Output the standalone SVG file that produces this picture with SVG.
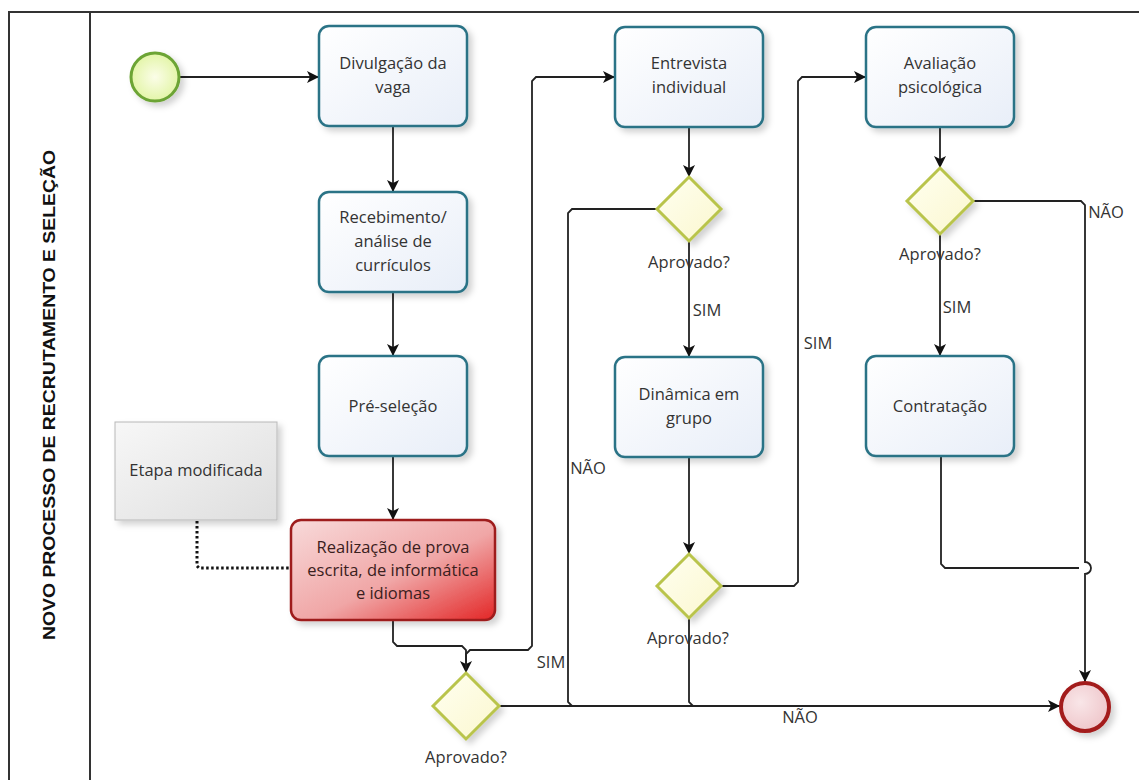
<svg xmlns="http://www.w3.org/2000/svg" width="1139" height="780" viewBox="0 0 1139 780">
<defs>
<style>
.lbl{font-family:"Open Sans","Noto Sans","Liberation Sans",sans-serif;font-size:16.5px;fill:#333;text-anchor:middle}
.task{stroke:#2b7386;stroke-width:2.5;fill:url(#gBlue);filter:url(#sh)}
.gw{fill:url(#gYel);stroke:#b9c44c;stroke-width:3;filter:url(#sh)}
.conn{fill:none;stroke:#222;stroke-width:1.8}
.arr{marker-end:url(#ah)}
</style>
<linearGradient id="gBlue" x1="0" y1="0" x2="1" y2="1"><stop offset="0" stop-color="#ffffff"/><stop offset="1" stop-color="#e8eef8"/></linearGradient>
<linearGradient id="gRed" x1="0" y1="0" x2="1" y2="1"><stop offset="0" stop-color="#f8dada"/><stop offset="0.55" stop-color="#f0a6a6"/><stop offset="1" stop-color="#e32626"/></linearGradient>
<linearGradient id="gYel" x1="0" y1="0" x2="1" y2="1"><stop offset="0" stop-color="#fffff0"/><stop offset="1" stop-color="#fbf7cf"/></linearGradient>
<linearGradient id="gGray" x1="0" y1="0" x2="1" y2="1"><stop offset="0" stop-color="#f7f7f7"/><stop offset="1" stop-color="#dedede"/></linearGradient>
<radialGradient id="gGreen" cx="0.5" cy="0.5" r="0.5"><stop offset="0" stop-color="#fbfde8"/><stop offset="1" stop-color="#e3f5a8"/></radialGradient>
<radialGradient id="gPink" cx="0.4" cy="0.4" r="0.6"><stop offset="0" stop-color="#f9e6e8"/><stop offset="1" stop-color="#efc8cc"/></radialGradient>
<filter id="sh" x="-20%" y="-20%" width="150%" height="150%"><feDropShadow dx="4" dy="4" stdDeviation="3" flood-color="#000" flood-opacity="0.18"/></filter>
<marker id="ah" viewBox="0 0 12 12" refX="12" refY="6" markerWidth="12" markerHeight="12" markerUnits="userSpaceOnUse" orient="auto"><path d="M0,0 L12,6 L0,12 L3,6 z" fill="#111"/></marker>
</defs>
<rect width="1139" height="780" fill="#fff"/>
<g id="pool">
<rect x="9" y="12" width="1140" height="780" fill="none" stroke="#333" stroke-width="2"/>
<line x1="90" y1="12" x2="90" y2="780" stroke="#333" stroke-width="2"/>
<text x="0" y="0" transform="translate(55,395) rotate(-90)" font-family="'Liberation Sans',Arial,sans-serif" font-weight="bold" font-size="17" fill="#111" text-anchor="middle" textLength="490" lengthAdjust="spacingAndGlyphs">NOVO PROCESSO DE RECRUTAMENTO E SELEÇÃO</text>
</g>
<g id="connectors">
<path class="conn arr" d="M179,77 H319"/>
<path class="conn arr" d="M393,127 V192"/>
<path class="conn arr" d="M393,292 V356"/>
<path class="conn arr" d="M393,456 V520"/>
<path class="conn arr" d="M393,620 V642 L397,646 H462 L466,650 V673"/>
<path class="conn arr" d="M466,673 V654 L470,650 H528 L532,646 V81 L536,77 H615"/>
<path class="conn arr" d="M499,706 H1060"/>
<path class="conn arr" d="M689,127 V177"/>
<path class="conn arr" d="M689,241 V357"/>
<path class="conn" d="M657,209 H572 L568,213 V702 L572,706"/>
<path class="conn arr" d="M689,457 V554"/>
<path class="conn arr" d="M721,586 H794 L798,582 V81 L802,77 H866"/>
<path class="conn" d="M689,618 V702 L693,706"/>
<path class="conn arr" d="M940,127 V168"/>
<path class="conn arr" d="M940,234 V356"/>
<path class="conn arr" d="M973,201 H1081 L1085,205 V562 A6,6 0 0 1 1085,574 V682"/>
<path class="conn" d="M941,456 V564 L945,568 H1079"/>
<path d="M197,521 V566 L199,568 H290" fill="none" stroke="#111" stroke-width="3" stroke-dasharray="2.5,2.5"/>
</g>
<g id="start"><circle cx="155" cy="77" r="24" fill="url(#gGreen)" stroke="#6ca434" stroke-width="3" filter="url(#sh)"/></g>
<g id="t1"><rect class="task" x="319" y="26" width="148" height="100" rx="10"/><text class="lbl" x="393" y="69">Divulgação da</text><text class="lbl" x="393" y="93">vaga</text></g>
<g id="t2"><rect class="task" x="319" y="192" width="148" height="100" rx="10"/><text class="lbl" x="393" y="223">Recebimento/</text><text class="lbl" x="393" y="247">análise de</text><text class="lbl" x="393" y="271">currículos</text></g>
<g id="t3"><rect class="task" x="319" y="356" width="148" height="100" rx="10"/><text class="lbl" x="393" y="412">Pré-seleção</text></g>
<g id="t4"><rect x="291" y="520" width="204" height="100" rx="10" fill="url(#gRed)" stroke="#9e1c1c" stroke-width="2.5" filter="url(#sh)"/><text class="lbl" x="393" y="553" style="fill:#3a2020">Realização de prova</text><text class="lbl" x="393" y="576" style="fill:#3a2020">escrita, de informática</text><text class="lbl" x="393" y="599" style="fill:#3a2020">e idiomas</text></g>
<g id="note"><rect x="115" y="422" width="162" height="98" fill="url(#gGray)" stroke="#b8b8b8" stroke-width="1" filter="url(#sh)"/><text class="lbl" x="196" y="476">Etapa modificada</text></g>
<g id="gw1"><polygon class="gw" points="466,673 499,706 466,739 433,706"/><text class="lbl" x="466" y="763">Aprovado?</text></g>
<g id="t5"><rect class="task" x="615" y="27" width="148" height="100" rx="10"/><text class="lbl" x="689" y="69">Entrevista</text><text class="lbl" x="689" y="93">individual</text></g>
<g id="gw2"><polygon class="gw" points="689,177 721,209 689,241 657,209"/><text class="lbl" x="689" y="268">Aprovado?</text></g>
<g id="t6"><rect class="task" x="615" y="357" width="148" height="100" rx="10"/><text class="lbl" x="689" y="400">Dinâmica em</text><text class="lbl" x="689" y="424">grupo</text></g>
<g id="gw3"><polygon class="gw" points="689,554 721,586 689,618 657,586"/><text class="lbl" x="688" y="644">Aprovado?</text></g>
<g id="t7"><rect class="task" x="866" y="27" width="148" height="100" rx="10"/><text class="lbl" x="940" y="69">Avaliação</text><text class="lbl" x="940" y="93">psicológica</text></g>
<g id="gw4"><polygon class="gw" points="940,168 973,201 940,234 907,201"/><text class="lbl" x="940" y="260">Aprovado?</text></g>
<g id="t8"><rect class="task" x="866" y="356" width="148" height="100" rx="10"/><text class="lbl" x="940" y="412">Contratação</text></g>
<g id="end"><circle cx="1085" cy="707" r="24" fill="url(#gPink)" stroke="#a31b1b" stroke-width="4" filter="url(#sh)"/></g>
<g id="labels">
<text class="lbl" x="551" y="668">SIM</text>
<text class="lbl" x="707" y="316">SIM</text>
<text class="lbl" x="818" y="349">SIM</text>
<text class="lbl" x="957" y="313">SIM</text>
<text class="lbl" x="588" y="474">NÃO</text>
<text class="lbl" x="800" y="723">NÃO</text>
<text class="lbl" x="1106" y="218">NÃO</text>
</g>
</svg>
